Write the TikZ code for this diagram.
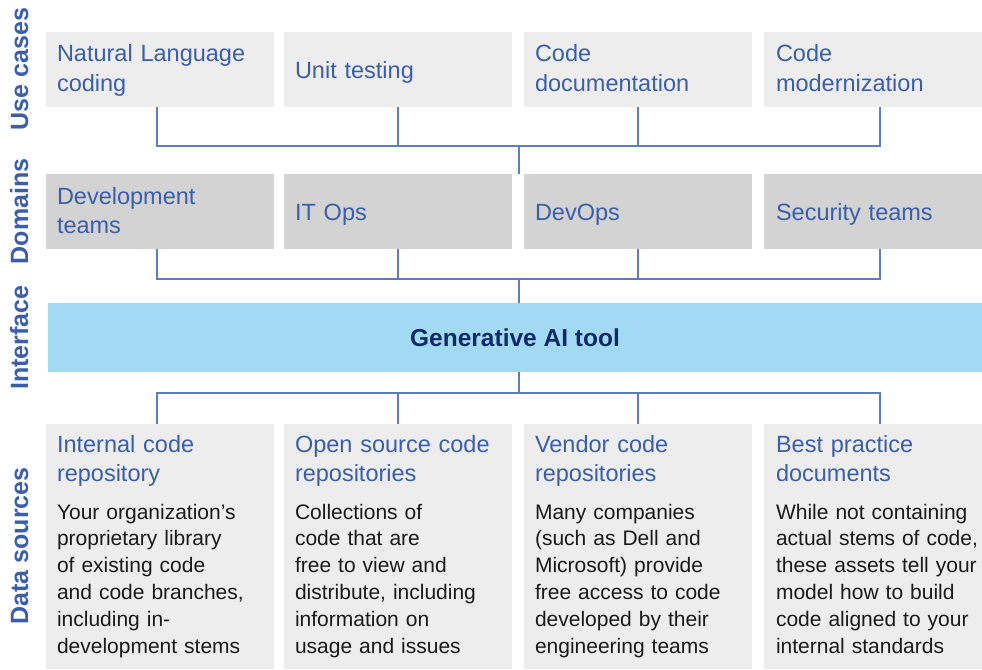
\documentclass[tikz,border=0pt]{standalone}
\usepackage{fontspec}
\setmainfont{Liberation Sans}
\definecolor{headblue}{RGB}{58,94,170}
\definecolor{lineblue}{RGB}{92,126,192}
\definecolor{boxlight}{RGB}{237,237,237}
\definecolor{boxdark}{RGB}{211,211,211}
\definecolor{ifblue}{RGB}{163,218,243}
\definecolor{navy}{RGB}{16,42,104}
\definecolor{bodyblack}{RGB}{26,26,26}
\begin{document}
\begin{tikzpicture}[x=1pt,y=-1pt,
  boxbase/.style={draw=none,inner sep=0pt,outer sep=0pt,anchor=north west},
  lightbox/.style={boxbase,fill=boxlight},
  darkbox/.style={boxbase,fill=boxdark},
  headtxt/.style={anchor=base west,inner sep=0pt,outer sep=0pt,text width=212pt,align=left,
     font=\fontsize{23.5}{29.5}\selectfont,text=headblue},
  bodytxt/.style={anchor=base west,inner sep=0pt,outer sep=0pt,text width=212pt,align=left,
     font=\fontsize{21}{26.8}\selectfont,text=bodyblack},
  sidelabel/.style={rotate=90,anchor=base,inner sep=0pt,font=\bfseries\fontsize{25}{30}\selectfont,text=headblue},
  conn/.style={draw=lineblue,line width=1.4pt}]
\useasboundingbox (0,0) rectangle (982,669);

% side labels
\node[sidelabel] (lu) at (28,69) {Use cases};
\node[sidelabel] (ld) at (28,211.5) {Domains};
\node[sidelabel] (li) at (28,337.5) {Interface};
\node[sidelabel] (ls) at (28,546) {Data sources};

% row 1: use cases
\node[lightbox,minimum width=228pt,minimum height=75pt] (u1) at (46,32) {};
\node[lightbox,minimum width=228pt,minimum height=75pt] (u2) at (284,32) {};
\node[lightbox,minimum width=228pt,minimum height=75pt] (u3) at (524,32) {};
\node[lightbox,minimum width=218pt,minimum height=75pt] (u4) at (764,32) {};
\node[headtxt] (ut1) at (57,62) {Natural Language\\coding};
\node[headtxt] (ut2) at (295,78) {Unit testing};
\node[headtxt] (ut3) at (535,62) {Code\\documentation};
\node[headtxt] (ut4) at (776,62) {Code\\modernization};

% row 2: domains
\node[darkbox,minimum width=228pt,minimum height=75pt] (d1) at (46,174) {};
\node[darkbox,minimum width=228pt,minimum height=75pt] (d2) at (284,174) {};
\node[darkbox,minimum width=228pt,minimum height=75pt] (d3) at (524,174) {};
\node[darkbox,minimum width=218pt,minimum height=75pt] (d4) at (764,174) {};
\node[headtxt] (dt1) at (57,204) {Development\\teams};
\node[headtxt] (dt2) at (295,220) {IT Ops};
\node[headtxt] (dt3) at (535,220) {DevOps};
\node[headtxt] (dt4) at (776,220) {Security teams};

% interface
\node[boxbase,fill=ifblue,minimum width=934pt,minimum height=69pt,
      font=\bfseries\fontsize{24.5}{30}\selectfont,text=navy] (gen) at (48,303) {Generative AI tool};

% row 4: data sources
\node[lightbox,minimum width=228pt,minimum height=245pt] (s1) at (46,424) {};
\node[lightbox,minimum width=228pt,minimum height=245pt] (s2) at (284,424) {};
\node[lightbox,minimum width=228pt,minimum height=245pt] (s3) at (524,424) {};
\node[lightbox,minimum width=218pt,minimum height=245pt] (s4) at (764,424) {};
\node[headtxt] (sh1) at (57,452) {Internal code\\repository};
\node[headtxt] (sh2) at (295,452) {Open source code\\repositories};
\node[headtxt] (sh3) at (535,452) {Vendor code\\repositories};
\node[headtxt] (sh4) at (776,452) {Best practice\\documents};
\node[bodytxt] (sb1) at (57,519) {Your organization’s\\proprietary library\\of existing code\\and code branches,\\including in-\\development stems};
\node[bodytxt] (sb2) at (295,519) {Collections of\\code that are\\free to view and\\distribute, including\\information on\\usage and issues};
\node[bodytxt] (sb3) at (535,519) {Many companies\\(such as Dell and\\Microsoft) provide\\free access to code\\developed by their\\engineering teams};
\node[bodytxt] (sb4) at (776,519) {While not containing\\actual stems of code,\\these assets tell your\\model how to build\\code aligned to your\\internal standards};

% connectors
\coordinate (j1) at (519,146);
\coordinate (j2) at (519,279);
\coordinate (j3) at (519,393);
\draw[conn] ([xshift=-3pt]u1.south) |- (j1);
\draw[conn] (u2.south) |- (j1);
\draw[conn] (u3.south) |- (j1);
\draw[conn] ([xshift=7pt]u4.south) |- (j1);
\draw[conn] (j1) -- (j1 |- d2.north);

\draw[conn] ([xshift=-3pt]d1.south) |- (j2);
\draw[conn] (d2.south) |- (j2);
\draw[conn] (d3.south) |- (j2);
\draw[conn] ([xshift=7pt]d4.south) |- (j2);
\draw[conn] (j2) -- (j2 |- gen.north);

\draw[conn] (j3 |- gen.south) -- (j3);
\draw[conn] (j3) -| ([xshift=-3pt]s1.north);
\draw[conn] (j3) -| (s2.north);
\draw[conn] (j3) -| (s3.north);
\draw[conn] (j3) -| ([xshift=7pt]s4.north);
\end{tikzpicture}
\end{document}
